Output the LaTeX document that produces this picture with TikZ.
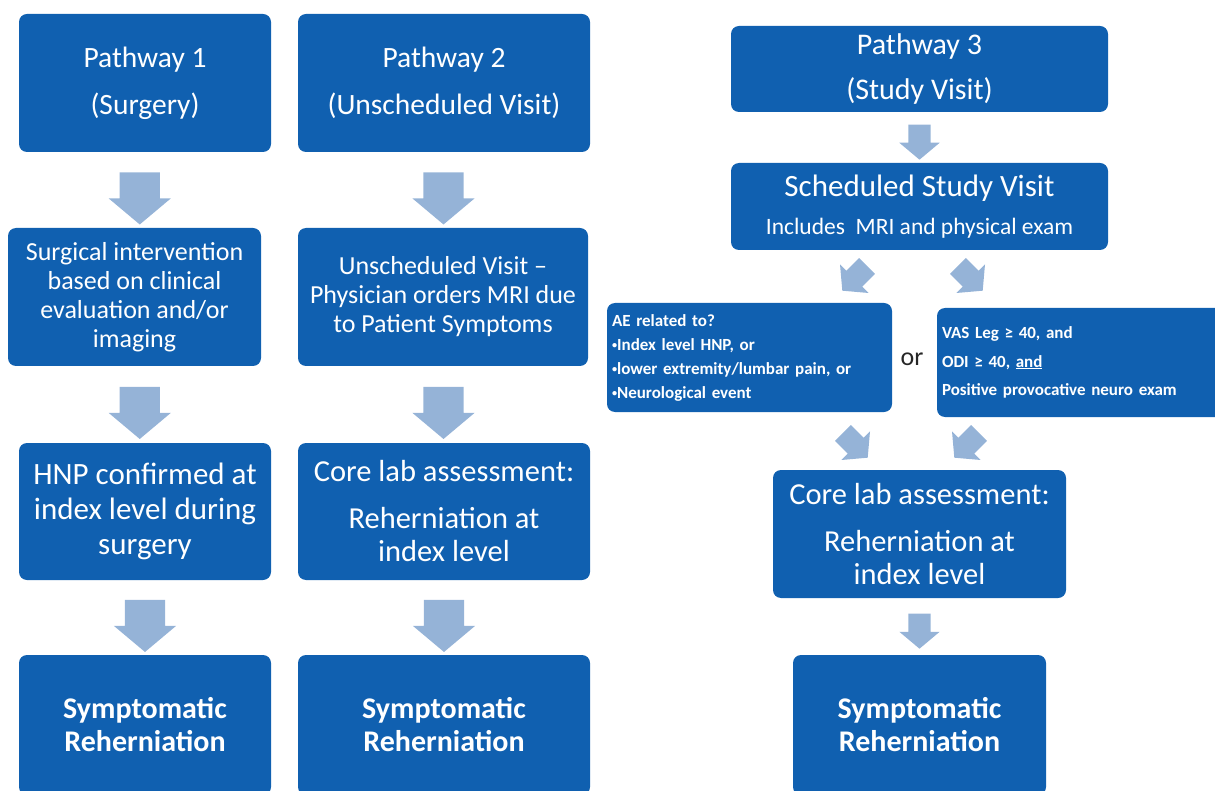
\documentclass[tikz,border=0pt]{standalone}
\usepackage{fontspec}
\setmainfont{Carlito}
\usetikzlibrary{calc,positioning,shapes.arrows}
\definecolor{boxblue}{RGB}{16,96,176}
\definecolor{arrowblue}{RGB}{149,179,215}
\newcommand{\dotitem}{\raisebox{1.5pt}{\scalebox{0.6}{\textbullet}}}
\tikzset{
box/.style={rectangle, rounded corners=8pt, fill=boxblue, text=white, align=center, inner sep=4pt}, % blue step box
leftbox/.style={box, align=left, inner sep=5pt, font=\bfseries\fontsize{17pt}{24pt}\selectfont},
arr/.style={single arrow, fill=arrowblue, inner sep=0pt, inner ysep=20pt, minimum height=52pt, minimum width=62pt, single arrow head extend=11pt, single arrow tip angle=100, rotate=-90},
arrsmall/.style={single arrow, fill=arrowblue, inner sep=0pt, inner ysep=11pt, minimum height=35pt, minimum width=40pt, single arrow head extend=9pt, single arrow tip angle=100},
}
\tikzset{
    between/.style args={#1 and #2}{
         at = ($(#1)!0.5!(#2)$)
    }
}
\begin{document}
\begin{tikzpicture}[x=1pt,y=-1pt]
\useasboundingbox (0,0) rectangle (1215,791);
\clip (0,0) rectangle (1215,791);
% pathway 1
\node[box, minimum width=252pt, minimum height=138pt, font=\fontsize{29.5pt}{47pt}\selectfont] (p1) at (145,83) {Pathway 1\\(Surgery)};
\node[box, minimum width=253pt, minimum height=138pt, font=\fontsize{26pt}{29pt}\selectfont] (sur1) at (134.5,297) {Surgical intervention\\based on clinical\\evaluation and/or\\imaging};
\node[box, minimum width=252pt, minimum height=137pt, font=\fontsize{31pt}{35pt}\selectfont] (hnp1) at (145,511.5) {HNP confirmed at\\index level during\\surgery};
\node[box, minimum width=252pt, minimum height=140pt, font=\bfseries\fontsize{30pt}{33pt}\selectfont] (sym1) at (145,725) {Symptomatic\\Reherniation};
% pathway 2
\node[box, minimum width=292pt, minimum height=138pt, font=\fontsize{29.5pt}{47pt}\selectfont] (p2) at (444,83) {Pathway 2\\(Unscheduled Visit)};
\node[box, minimum width=290pt, minimum height=138pt, font=\fontsize{26pt}{29pt}\selectfont] (vis2) at (443,297) {Unscheduled Visit --\\Physician orders MRI due\\to Patient Symptoms};
\node[box, minimum width=292pt, minimum height=137pt, font=\fontsize{30.5pt}{33pt}\selectfont] (core2) at (444,511.5) {Core lab assessment:\\[14pt]Reherniation at\\index level};
\node[box, minimum width=292pt, minimum height=140pt, font=\bfseries\fontsize{30pt}{33pt}\selectfont] (sym2) at (444,725) {Symptomatic\\Reherniation};
% pathway 3
\node[box, minimum width=377pt, minimum height=86pt, font=\fontsize{30pt}{45pt}\selectfont] (p3) at (919.5,69) {Pathway 3\\(Study Visit)};
\node[box, minimum width=377pt, minimum height=87pt, font=\fontsize{31pt}{36pt}\selectfont] (sched3) at (919.5,206.5) {Scheduled Study Visit\\[2pt]{\fontsize{23.5pt}{28pt}\selectfont Includes\ \ MRI and physical exam}};
\node[leftbox, text width=275pt, minimum height=109pt] (ae3) at (749.5,357.5) {AE related to?\\\dotitem Index level HNP, or\\\dotitem lower extremity/lumbar pain, or\\\dotitem Neurological event};
\node[leftbox, text width=278pt, minimum height=109pt, font=\bfseries\fontsize{17pt}{28.5pt}\selectfont] (vas3) at (1081,362.5) {VAS Leg ≥ 40, and\\ODI ≥ 40, \underline{and}\\Positive provocative neuro exam};
\node[font=\fontsize{26pt}{30pt}\selectfont, text=black!85] (or3) at (912,359) {or};
\node[box, minimum width=293pt, minimum height=128pt, font=\fontsize{30.5pt}{33pt}\selectfont] (core3) at (919.5,534) {Core lab assessment:\\[14pt]Reherniation at\\index level};
\node[box, minimum width=253pt, minimum height=140pt, font=\bfseries\fontsize{30pt}{33pt}\selectfont] (sym3) at (919.5,725) {Symptomatic\\Reherniation};
% block arrows
\node[arr, between=p1.south and sur1.north] (a11) {};
\node[arr, between=sur1.south and hnp1.north] (a12) {};
\node[arr, between=hnp1.south and sym1.north] (a13) {};
\node[arr, between=p2.south and vis2.north] (a21) {};
\node[arr, between=vis2.south and core2.north] (a22) {};
\node[arr, between=core2.south and sym2.north] (a23) {};
\node[arrsmall, rotate=-90, between=p3.south and sched3.north] (a31) {};
\node[arrsmall, rotate=-135] (a32) at (858,275) {};
\node[arrsmall, rotate=-45] (a33) at (967,275) {};
\node[arrsmall, rotate=-45] (a34) at (852,442) {};
\node[arrsmall, rotate=-135] (a35) at (970,442) {};
\node[arrsmall, rotate=-90, between=core3.south and sym3.north] (a36) {};
\end{tikzpicture}
\end{document}
